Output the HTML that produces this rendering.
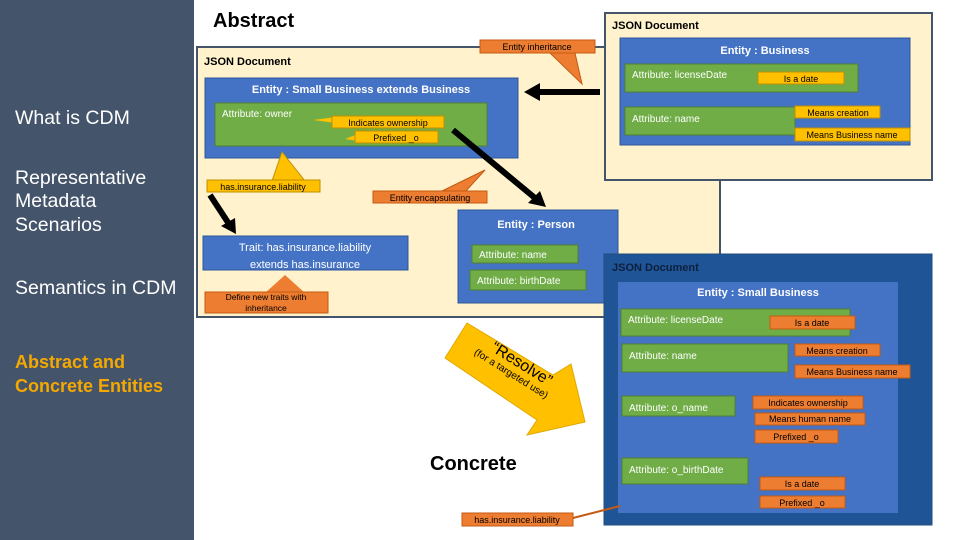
<!DOCTYPE html>
<html><head><meta charset="utf-8"><style>
body{margin:0;width:960px;height:540px;overflow:hidden;background:#fff;font-family:"Liberation Sans",sans-serif}
svg{display:block}
</style></head><body>
<svg width="960" height="540" viewBox="0 0 960 540" font-family="Liberation Sans, sans-serif">
<rect x="0" y="0" width="194" height="540" fill="#44546a"/>
<g fill="#fff" font-size="19.5">
<text x="15" y="124">What is CDM</text>
<text x="15" y="184">Representative</text>
<text x="15" y="207">Metadata</text>
<text x="15" y="231">Scenarios</text>
<text x="15" y="294">Semantics in CDM</text>
</g>
<g fill="#f5a800" font-size="18" font-weight="bold">
<text x="15" y="368">Abstract and</text>
<text x="15" y="392">Concrete Entities</text>
</g>
<text x="213" y="27" font-size="20" font-weight="bold">Abstract</text>
<text x="430" y="470" font-size="20" font-weight="bold">Concrete</text>

<!-- abstract doc -->
<rect x="197" y="47" width="523" height="270" fill="#fff2cc" stroke="#44546a" stroke-width="2"/>
<text x="204" y="65" font-size="11" font-weight="bold">JSON Document</text>
<!-- business doc -->
<rect x="605" y="13" width="327" height="167" fill="#fff2cc" stroke="#44546a" stroke-width="2"/>
<text x="612" y="29" font-size="11" font-weight="bold">JSON Document</text>
<rect x="620" y="38" width="290" height="107" fill="#4472c4" stroke="#2f5597"/>
<text x="765" y="54" font-size="11" font-weight="bold" fill="#fff" text-anchor="middle">Entity : Business</text>
<rect x="625" y="64" width="233" height="28" fill="#70ad47" stroke="#507e32"/>
<text x="632" y="78" font-size="10" fill="#fff">Attribute: licenseDate</text>
<rect x="758" y="72" width="86" height="12" fill="#ffc000" stroke="#bf9000"/>
<text x="801" y="82" font-size="9" text-anchor="middle">Is a date</text>
<rect x="625" y="107" width="170" height="28" fill="#70ad47" stroke="#507e32"/>
<text x="632" y="122" font-size="10" fill="#fff">Attribute: name</text>
<rect x="795" y="106" width="85" height="12" fill="#ffc000" stroke="#bf9000"/>
<text x="838" y="116" font-size="9" text-anchor="middle">Means creation</text>
<rect x="795" y="128" width="115" height="13" fill="#ffc000" stroke="#bf9000"/>
<text x="852" y="138" font-size="9" text-anchor="middle">Means Business name</text>

<!-- small business extends -->
<rect x="205" y="78" width="313" height="80" fill="#4472c4" stroke="#2f5597"/>
<text x="361" y="93" font-size="11" font-weight="bold" fill="#fff" text-anchor="middle">Entity : Small Business extends Business</text>
<rect x="215" y="103" width="272" height="43" fill="#70ad47" stroke="#507e32"/>
<text x="222" y="117" font-size="10" fill="#fff">Attribute: owner</text>
<polygon points="313,120 336,117 336,123" fill="#ffc000"/>
<rect x="332" y="116" width="112" height="12" fill="#ffc000" stroke="#bf9000"/>
<text x="388" y="126" font-size="9" text-anchor="middle">Indicates ownership</text>
<polygon points="345,139 358,134 358,141" fill="#ffc000"/>
<rect x="355" y="131" width="83" height="12" fill="#ffc000" stroke="#bf9000"/>
<text x="396" y="141" font-size="9" text-anchor="middle">Prefixed _o</text>

<!-- callouts -->
<polygon points="282,152 272,181 305,181" fill="#ffc000" stroke="#bf9000"/>
<rect x="207" y="180" width="113" height="12" fill="#ffc000" stroke="#bf9000"/>
<text x="263" y="190" font-size="9" text-anchor="middle">has.insurance.liability</text>
<polygon points="485,170 440,192 465,192" fill="#ed7d31" stroke="#c55a11"/>
<rect x="373" y="191" width="114" height="12" fill="#ed7d31" stroke="#c55a11"/>
<text x="430" y="201" font-size="9" text-anchor="middle">Entity encapsulating</text>
<polygon points="582,84 550,53 575,53" fill="#ed7d31" stroke="#c55a11"/>
<rect x="480" y="40" width="115" height="13" fill="#ed7d31" stroke="#c55a11"/>
<text x="537" y="50" font-size="9" text-anchor="middle">Entity inheritance</text>

<!-- arrows -->
<line x1="600" y1="92" x2="538" y2="92" stroke="#000" stroke-width="6"/>
<polygon points="524,92 540,83 540,101" fill="#000"/>
<line x1="453" y1="130" x2="535" y2="198" stroke="#000" stroke-width="6"/>
<polygon points="546,207 528,203 540,191" fill="#000"/>
<line x1="210" y1="195" x2="229" y2="224" stroke="#000" stroke-width="6"/>
<polygon points="236,234 221,226 235,218" fill="#000"/>

<!-- trait -->
<rect x="203" y="236" width="205" height="34" fill="#4472c4" stroke="#2f5597"/>
<text x="305" y="251" font-size="11" fill="#fff" text-anchor="middle">Trait: has.insurance.liability</text>
<text x="305" y="268" font-size="11" fill="#fff" text-anchor="middle">extends has.insurance</text>
<polygon points="285,275 265,293 305,293" fill="#ed7d31"/>
<rect x="205" y="292" width="123" height="21" fill="#ed7d31" stroke="#c55a11"/>
<text x="266" y="300" font-size="8.5" text-anchor="middle">Define new traits with</text>
<text x="266" y="311" font-size="8.5" text-anchor="middle">inheritance</text>

<!-- person -->
<rect x="458" y="210" width="160" height="93" fill="#4472c4" stroke="#2f5597"/>
<text x="536" y="228" font-size="11" font-weight="bold" fill="#fff" text-anchor="middle">Entity : Person</text>
<rect x="472" y="245" width="106" height="18" fill="#70ad47" stroke="#507e32"/>
<text x="479" y="258" font-size="10" fill="#fff">Attribute: name</text>
<rect x="470" y="270" width="116" height="20" fill="#70ad47" stroke="#507e32"/>
<text x="477" y="284" font-size="10" fill="#fff">Attribute: birthDate</text>

<!-- small business concrete -->
<rect x="604" y="254" width="328" height="271" fill="#1f5597" stroke="#1f4e79"/>
<text x="612" y="271" font-size="11" font-weight="bold" fill="#0d1f3c">JSON Document</text>
<rect x="618" y="282" width="280" height="231" fill="#4472c4"/>
<text x="758" y="296" font-size="11" font-weight="bold" fill="#fff" text-anchor="middle">Entity : Small Business</text>
<rect x="621" y="309" width="229" height="27" fill="#70ad47" stroke="#507e32"/>
<text x="628" y="323" font-size="10" fill="#fff">Attribute: licenseDate</text>
<rect x="622" y="344" width="166" height="28" fill="#70ad47" stroke="#507e32"/>
<text x="629" y="359" font-size="10" fill="#fff">Attribute: name</text>
<rect x="622" y="396" width="113" height="20" fill="#70ad47" stroke="#507e32"/>
<text x="629" y="411" font-size="10" fill="#fff">Attribute: o_name</text>
<rect x="622" y="458" width="126" height="26" fill="#70ad47" stroke="#507e32"/>
<text x="629" y="473" font-size="10" fill="#fff">Attribute: o_birthDate</text>
<g fill="#ed7d31" stroke="#c55a11">
<rect x="770" y="316" width="85" height="13"/>
<rect x="795" y="344" width="85" height="12"/>
<rect x="795" y="365" width="115" height="13"/>
<rect x="753" y="396" width="110" height="13"/>
<rect x="755" y="413" width="110" height="12"/>
<rect x="755" y="430" width="83" height="13"/>
<rect x="760" y="477" width="85" height="13"/>
<rect x="760" y="496" width="85" height="12"/>
<rect x="462" y="513" width="111" height="13"/>
</g>
<line x1="573" y1="518" x2="620" y2="506" stroke="#c55a11" stroke-width="2"/>
<g font-size="9" text-anchor="middle">
<text x="812" y="326">Is a date</text>
<text x="837" y="354">Means creation</text>
<text x="852" y="375">Means Business name</text>
<text x="808" y="406">Indicates ownership</text>
<text x="810" y="422">Means human name</text>
<text x="796" y="440">Prefixed _o</text>
<text x="802" y="487">Is a date</text>
<text x="802" y="506">Prefixed _o</text>
<text x="517" y="523">has.insurance.liability</text>
</g>

<!-- resolve arrow -->
<polygon points="467,323 553,375 571,364 585,422 527,435 537,420 445,358" fill="#ffc000" stroke="#e0a800"/>
<g transform="translate(490,350) rotate(32)">
<text x="0" y="0" font-size="16">“Resolve”</text>
<text x="-12" y="12" font-size="10">(for a targeted use)</text>
</g>
</svg>
</body></html>
